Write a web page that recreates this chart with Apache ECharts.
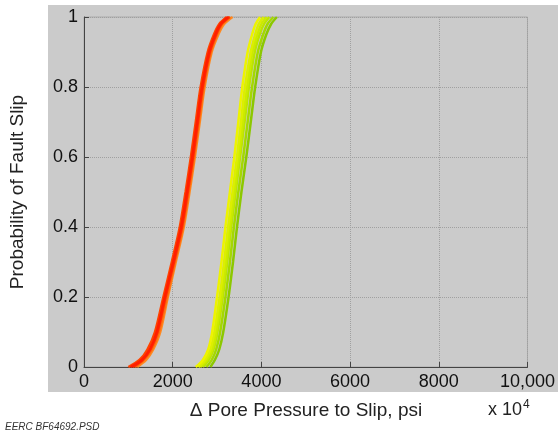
<!DOCTYPE html>
<html>
<head>
<meta charset="utf-8">
<script src="https://cdn.jsdelivr.net/npm/echarts@6/dist/echarts.min.js"></script>
<style>
html,body{margin:0;padding:0;background:#fff;}
#c{width:558px;height:434px;}
</style>
</head>
<body>
<div id="c"></div>
<script>
// Probability levels shared by all curves
var yLevels = [0, 0.02, 0.05, 0.1, 0.2, 0.3, 0.4, 0.5, 0.6, 0.7, 0.8, 0.9, 0.95, 0.98, 1.0];

// Red / orange ensemble (pressure, psi, at each probability level)
var red1    = [1050,1300,1480,1640,1820,2010,2190,2320,2440,2550,2660,2820,2960,3080,3250];
var red2    = [1000,1250,1430,1600,1790,1980,2160,2290,2410,2520,2630,2790,2930,3050,3220];
var red3    = [1100,1320,1500,1660,1840,2030,2210,2340,2460,2570,2680,2840,2980,3100,3280];
var orange1 = [1150,1350,1530,1690,1870,2050,2230,2360,2480,2590,2700,2860,3000,3120,3300];
var orange2 = [1200,1400,1560,1720,1890,2070,2250,2380,2500,2610,2720,2880,3030,3160,3350];

// Yellow / green ensemble
var yellow1 = [2520,2680,2800,2890,3000,3100,3190,3290,3390,3480,3570,3690,3790,3870,3970];
var yellow2 = [2580,2730,2850,2940,3060,3160,3250,3350,3450,3540,3630,3760,3860,3940,4050];
var lime1   = [2620,2770,2890,2980,3100,3200,3290,3390,3490,3580,3680,3800,3910,4000,4120];
var green1  = [2680,2810,2920,3010,3130,3230,3320,3420,3520,3620,3720,3850,3960,4060,4180];
var green2  = [2760,2880,2980,3070,3190,3290,3380,3480,3590,3690,3790,3920,4040,4140,4270];
var green3  = [2850,2950,3050,3140,3260,3360,3450,3550,3660,3760,3860,3990,4110,4220,4350];

var xTicks = [0, 2000, 4000, 6000, 8000, 10000];
var yTicks = [0, 0.2, 0.4, 0.6, 0.8, 1];

var curves = [
  {d: green3, c: '#8cc800'},
  {d: green2, c: '#a4d800'},
  {d: green1, c: '#bce400'},
  {d: lime1,  c: '#ccea00'},
  {d: yellow2,c: '#dcef00'},
  {d: yellow1,c: '#eef400'},
  {d: orange2,c: '#ff8a20'},
  {d: orange1,c: '#ff6a10'},
  {d: red3,   c: '#ff3000'},
  {d: red2,   c: '#ff4400'},
  {d: red1,   c: '#ff1e00'}
];

var series = curves.map(function (cv) {
  return {
    type: 'line',
    data: cv.d.map(function (x, i) { return [x, yLevels[i]]; }),
    showSymbol: false,
    smooth: 0.3,
    lineStyle: {color: cv.c, width: 2.5},
    silent: true,
    animation: false
  };
});

var chart = echarts.init(document.getElementById('c'), null, {renderer: 'canvas'});
chart.setOption({
  backgroundColor: '#ffffff',
  animation: false,
  grid: {
    left: 84, top: 17, right: 30, bottom: 67,
    show: true, borderColor: '#aaaaaa', borderWidth: 1, backgroundColor: 'transparent'
  },
  graphic: [
    {type: 'rect', z: -10, shape: {x: 48, y: 5, width: 510, height: 387}, style: {fill: '#cbcbcb'}},
    {type: 'text', x: 8, y: 192, rotation: Math.PI / 2,
      style: {text: 'Probability of Fault Slip', font: '19px "Liberation Sans", Arial, sans-serif', fill: '#222', align: 'center', verticalAlign: 'top'}},
    {type: 'text', x: 306, y: 411,
      style: {text: '\u0394 Pore Pressure to Slip, psi', font: '19px "Liberation Sans", Arial, sans-serif', fill: '#222', align: 'center', verticalAlign: 'middle'}},
    {type: 'text', x: 488, y: 410,
      style: {text: '{a|x 10}{b|4}', fill: '#222', verticalAlign: 'middle',
        rich: {a: {font: '18px "Liberation Sans", Arial, sans-serif', fill: '#222'},
               b: {font: '12px "Liberation Sans", Arial, sans-serif', fill: '#222', verticalAlign: 'top', padding: [0,0,10,1]}}}},
    {type: 'text', x: 5, y: 427,
      style: {text: 'EERC BF64692.PSD', font: 'italic 10px "Liberation Sans", Arial, sans-serif', fill: '#333', verticalAlign: 'middle'}}
  ],
  xAxis: {
    type: 'value', min: 0, max: 10000, interval: 2000,
    axisLine: {show: true, lineStyle: {color: '#444', width: 1}},
    axisTick: {show: true, inside: true, length: 5, lineStyle: {color: '#444'}},
    axisLabel: {color: '#111', fontSize: 18, fontFamily: '"Liberation Sans", Arial, sans-serif', margin: 6,
      formatter: function (v) { return v === 10000 ? '10,000' : String(v); }},
    splitLine: {show: true, lineStyle: {color: '#a0a0a0', type: 'dotted', width: 1}}
  },
  yAxis: {
    type: 'value', min: 0, max: 1, interval: 0.2,
    axisLine: {show: true, lineStyle: {color: '#444', width: 1}},
    axisTick: {show: true, inside: true, length: 5, lineStyle: {color: '#444'}},
    axisLabel: {color: '#111', fontSize: 18, fontFamily: '"Liberation Sans", Arial, sans-serif', margin: 6,
      formatter: function (v) { return String(Math.round(v * 10) / 10); }},
    splitLine: {show: true, lineStyle: {color: '#a0a0a0', type: 'dotted', width: 1}}
  },
  series: series
});
</script>
</body>
</html>
